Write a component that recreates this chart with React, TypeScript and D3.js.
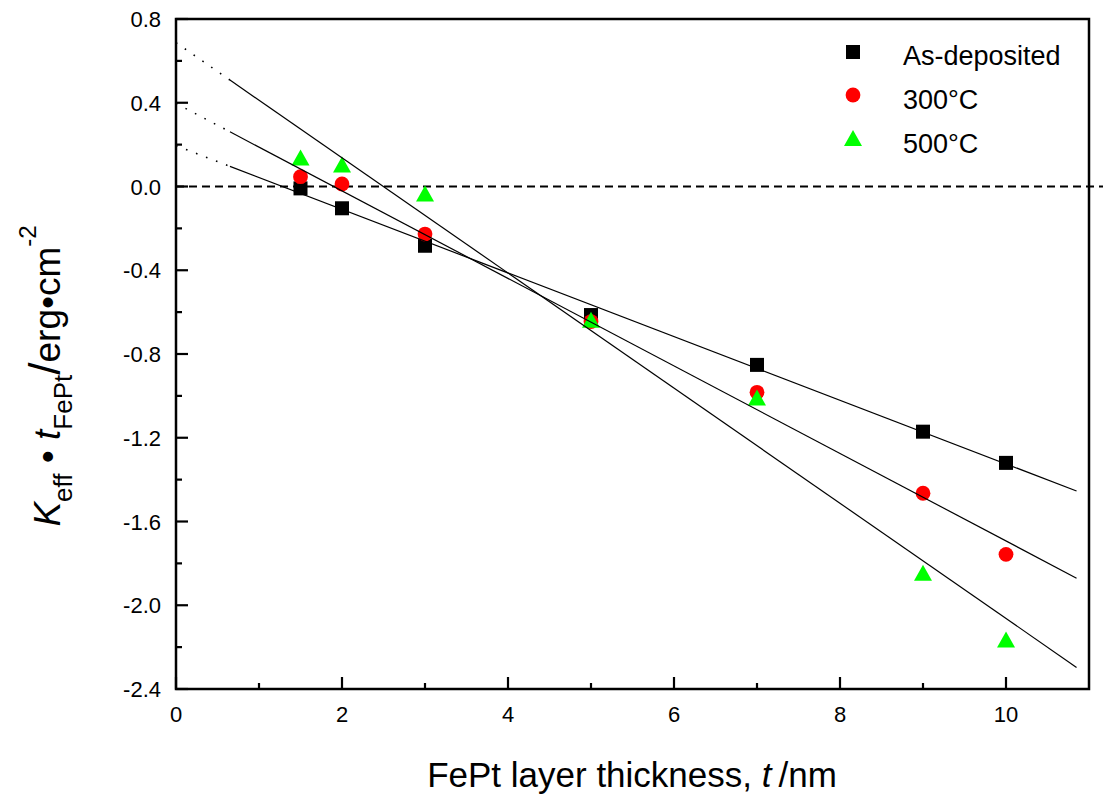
import React from "react";
import * as d3 from "d3";

// ---- data ----
const thickness = [1.5, 2, 3, 5, 7, 9, 10];
const asDeposited = [-0.009, -0.104, -0.283, -0.614, -0.852, -1.171, -1.32];
const annealed300 = [0.047, 0.012, -0.227, -0.645, -0.983, -1.465, -1.757];
const annealed500 = [0.138, 0.105, -0.033, -0.637, -1.008, -1.845, -2.164];

const seriesNames = ["As-deposited", "300°C", "500°C"];
const seriesColors = ["#000000", "#ff0000", "#00ff00"];

// linear fits (intercept, slope)
const fitIntercepts = [0.195, 0.397, 0.687];
const fitSlopes = [-0.152, -0.209, -0.275];
const fitDottedEnd = 0.65;
const fitSolidEnd = 10.85;

const xTicks = [0, 2, 4, 6, 8, 10];
const xMinorTicks = [1, 3, 5, 7, 9];
const yTicks = [0.8, 0.4, 0.0, -0.4, -0.8, -1.2, -1.6, -2.0, -2.4];
const yMinorTicks = [0.6, 0.2, -0.2, -0.6, -1.0, -1.4, -1.8, -2.2];

const W = 1103;
const H = 798;
const left = 176;
const right = 1089;
const top = 19;
const bottom = 689;

const FONT = "Arial, 'Liberation Sans', Helvetica, sans-serif";

function Marker({ kind, x, y, color }: { kind: number; x: number; y: number; color: string }) {
  if (kind === 0) {
    const s = 14;
    return <rect x={x - s / 2} y={y - s / 2} width={s} height={s} fill={color} />;
  }
  if (kind === 1) {
    return <circle cx={x} cy={y} r={7.4} fill={color} />;
  }
  const w = 18;
  const h = 16;
  return (
    <path
      d={`M${x},${y - h / 2}L${x + w / 2},${y + h / 2}L${x - w / 2},${y + h / 2}Z`}
      fill={color}
    />
  );
}

export default function App() {
  const xScale = d3.scaleLinear().domain([0, 11]).range([left, right]);
  const yScale = d3.scaleLinear().domain([-2.4, 0.8]).range([bottom, top]);
  const series = [asDeposited, annealed300, annealed500];
  const line = d3
    .line<[number, number]>()
    .x((d) => xScale(d[0]))
    .y((d) => yScale(d[1]));

  const fmt = (v: number) => (Math.abs(v) < 1e-9 ? "0.0" : v.toFixed(1));

  return (
    <svg
      width={W}
      height={H}
      style={{ position: "absolute", left: 0, top: 0, background: "#fff" }}
      fontFamily={FONT}
    >
      <rect x={0} y={0} width={W} height={H} fill="#fff" />

      {/* zero reference line */}
      <line
        x1={left}
        x2={W}
        y1={yScale(0)}
        y2={yScale(0)}
        stroke="#000"
        strokeWidth={2}
        strokeDasharray="8 5"
      />

      {/* markers */}
      {series.map((vals, si) =>
        vals.map((v, i) => (
          <Marker key={`m${si}-${i}`} kind={si} x={xScale(thickness[i])} y={yScale(v)} color={seriesColors[si]} />
        ))
      )}

      {/* fit lines */}
      {fitIntercepts.map((b, i) => {
        const m = fitSlopes[i];
        const dotted: [number, number][] = [
          [0, b],
          [fitDottedEnd, b + m * fitDottedEnd],
        ];
        const solid: [number, number][] = [
          [fitDottedEnd, b + m * fitDottedEnd],
          [fitSolidEnd, b + m * fitSolidEnd],
        ];
        return (
          <g key={`f${i}`}>
            <path d={line(dotted) || ""} stroke="#000" strokeWidth={1.6} strokeDasharray="1.6 9.1" fill="none" />
            <path d={line(solid) || ""} stroke="#000" strokeWidth={1.2} fill="none" />
          </g>
        );
      })}

      {/* frame */}
      <rect x={left} y={top} width={right - left} height={bottom - top} fill="none" stroke="#000" strokeWidth={2.5} />

      {/* x ticks */}
      {xTicks.map((t) => (
        <g key={`xt${t}`}>
          <line x1={xScale(t)} x2={xScale(t)} y1={bottom} y2={bottom - 12} stroke="#000" strokeWidth={2.2} />
          <text x={xScale(t)} y={722} fontSize={22} textAnchor="middle" fill="#000">
            {t}
          </text>
        </g>
      ))}
      {xMinorTicks.map((t) => (
        <line key={`xm${t}`} x1={xScale(t)} x2={xScale(t)} y1={bottom} y2={bottom - 6} stroke="#000" strokeWidth={2.2} />
      ))}

      {/* y ticks */}
      {yTicks.map((t) => (
        <g key={`yt${t}`}>
          <line x1={left} x2={left + 12} y1={yScale(t)} y2={yScale(t)} stroke="#000" strokeWidth={2.2} />
          <text x={161} y={yScale(t) + 8} fontSize={22} textAnchor="end" fill="#000">
            {fmt(t)}
          </text>
        </g>
      ))}
      {yMinorTicks.map((t) => (
        <line key={`ym${t}`} x1={left} x2={left + 6} y1={yScale(t)} y2={yScale(t)} stroke="#000" strokeWidth={2.2} />
      ))}

      {/* legend */}
      {seriesNames.map((name, i) => (
        <g key={`lg${i}`}>
          <Marker kind={i} x={853} y={52 + i * 43} color={seriesColors[i]} />
          <text x={903} y={65 + i * 44} fontSize={27} fill="#000">
            {name}
          </text>
        </g>
      ))}

      {/* x axis title */}
      <text x={632} y={787} fontSize={35} textAnchor="middle" fill="#000">
        FePt layer thickness,{" "}
        <tspan fontStyle="italic">t</tspan>
        <tspan>{"\u2009"}/nm</tspan>
      </text>

      {/* y axis title */}
      <text transform="translate(60,376) rotate(-90)" fontSize={37} textAnchor="middle" fill="#000">
        <tspan fontStyle="italic">K</tspan>
        <tspan fontSize={26} dy={12}>eff</tspan>
        <tspan dy={-12}>{" \u2022 "}</tspan>
        <tspan fontStyle="italic">t</tspan>
        <tspan fontSize={26} dy={12}>FePt</tspan>
        <tspan fontSize={44} dy={-12}>/</tspan>
        <tspan>erg•cm</tspan>
        <tspan fontSize={24} dy={-24}>-2</tspan>
      </text>
    </svg>
  );
}
